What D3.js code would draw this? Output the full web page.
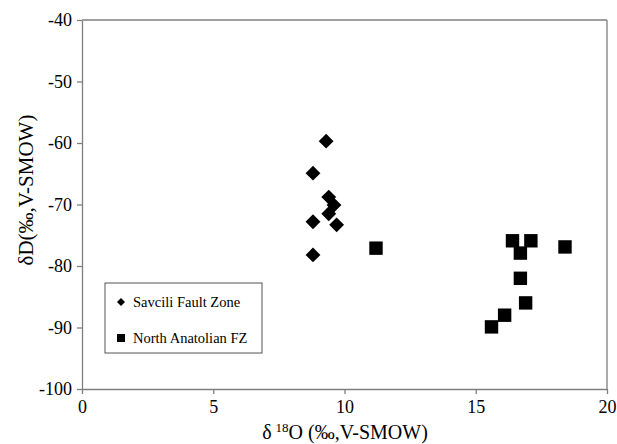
<!DOCTYPE html>
<html>
<head>
<meta charset="utf-8">
<script src="https://cdn.jsdelivr.net/npm/d3@7"></script>
<style>
body { margin: 0; background: #fff; }
text { font-family: "Liberation Serif", "DejaVu Serif", serif; fill: #000; }
</style>
</head>
<body>
<svg id="chart" width="617" height="444"></svg>
<script>
// Savcili Fault Zone (diamonds)
var savX = [9.3, 8.8, 9.4, 9.6, 9.4, 8.8, 9.7, 8.8]
var savY = [-59.7, -64.9, -68.8, -70.1, -71.5, -72.8, -73.3, -78.2]
// North Anatolian FZ (squares)
var nafX = [11.2, 16.4, 17.1, 16.7, 18.4, 16.7, 16.9, 16.1, 15.6]
var nafY = [-77.1, -75.9, -75.9, -77.9, -76.9, -82.0, -86.0, -88.0, -89.9]
var xTicks = [0, 5, 10, 15, 20]
var yTicks = [-100, -90, -80, -70, -60, -50, -40]
var seriesNames = ['Savcili Fault Zone', 'North Anatolian FZ']

var svg = d3.select('#chart')
var mLeft = 82, mRight = 607, mTop = 20, mBottom = 389

var x = d3.scaleLinear().domain([0, 20]).range([mLeft, mRight])
var y = d3.scaleLinear().domain([-100, -40]).range([mBottom, mTop])

var axisColor = '#7f7f7f'

// frame top and right
svg.append('line').attr('x1', mLeft).attr('x2', mRight).attr('y1', mTop).attr('y2', mTop)
  .attr('stroke', axisColor).attr('stroke-width', 1.3)
svg.append('line').attr('x1', mRight).attr('x2', mRight).attr('y1', mTop).attr('y2', mBottom)
  .attr('stroke', axisColor).attr('stroke-width', 1.3)

var xAxis = svg.append('g').attr('transform', 'translate(0,' + mBottom + ')')
  .call(d3.axisBottom(x).tickValues(xTicks).tickSize(5).tickSizeOuter(0).tickPadding(6)
    .tickFormat(function (d) { return String(d) }))
var yAxis = svg.append('g').attr('transform', 'translate(' + mLeft + ',0)')
  .call(d3.axisLeft(y).tickValues(yTicks).tickSize(5).tickSizeOuter(0).tickPadding(5)
    .tickFormat(function (d) { return String(d) }))

;[xAxis, yAxis].forEach(function (g) {
  g.select('.domain').attr('stroke', axisColor).attr('stroke-width', 1.3)
  g.selectAll('.tick line').attr('stroke', axisColor).attr('stroke-width', 1.3)
  g.selectAll('.tick text').attr('font-size', 18).attr('fill', '#000')
    .attr('font-family', '"Liberation Serif", serif')
})

var diamond = d3.symbol().type(d3.symbolSquare).size(110)
var square = d3.symbol().type(d3.symbolSquare).size(180)

svg.append('g').selectAll('path').data(savX).join('path')
  .attr('d', diamond)
  .attr('transform', function (d, i) { return 'translate(' + x(d) + ',' + y(savY[i]) + ') rotate(45)' })
  .attr('fill', '#000')

svg.append('g').selectAll('path').data(nafX).join('path')
  .attr('d', square)
  .attr('transform', function (d, i) { return 'translate(' + x(d) + ',' + y(nafY[i]) + ')' })
  .attr('fill', '#000')

// legend
var lg = svg.append('g')
lg.append('rect').attr('x', 105).attr('y', 283).attr('width', 157).attr('height', 70)
  .attr('fill', '#fff').attr('stroke', '#555').attr('stroke-width', 1)
lg.append('path').attr('d', d3.symbol().type(d3.symbolSquare).size(32))
  .attr('transform', 'translate(121,302) rotate(45)').attr('fill', '#000')
lg.append('path').attr('d', d3.symbol().type(d3.symbolSquare).size(64))
  .attr('transform', 'translate(121,338)').attr('fill', '#000')
lg.append('text').attr('x', 133).attr('y', 307).attr('font-size', 14.5).text(seriesNames[0])
lg.append('text').attr('x', 133).attr('y', 343).attr('font-size', 14.5).text(seriesNames[1])

// axis titles
var xt = svg.append('text').attr('x', 345).attr('y', 439).attr('text-anchor', 'middle').attr('font-size', 20)
xt.append('tspan').text('δ')
xt.append('tspan').attr('font-size', 13).attr('dy', -7).attr('dx', 4).text('18')
xt.append('tspan').attr('dy', 7).text('O (‰,V-SMOW)')

svg.append('text').attr('transform', 'translate(33,190) rotate(-90)')
  .attr('text-anchor', 'middle').attr('font-size', 21).text('δD(‰,V-SMOW)')
</script>
</body>
</html>
